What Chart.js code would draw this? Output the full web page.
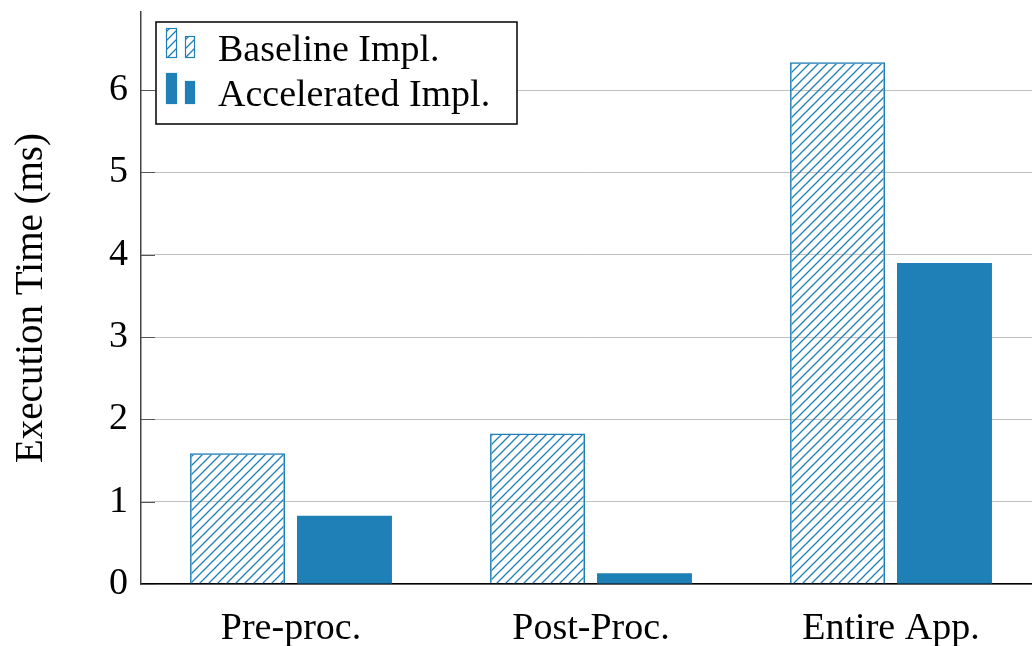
<!DOCTYPE html>
<html>
<head>
<meta charset="utf-8">
<script src="https://cdn.jsdelivr.net/npm/chart.js@4"></script>
<style>
  html, body { margin: 0; padding: 0; background: #fff; overflow: hidden; }
  canvas { display: block; }
</style>
</head>
<body>
<canvas id="chart" width="1032" height="646"></canvas>
<script>
const categories = ['Pre-proc.', 'Post-Proc.', 'Entire App.'];
const baselineTimes = [1.59, 1.83, 6.34];
const acceleratedTimes = [0.83, 0.13, 3.90];
const yTicks = [0, 1, 2, 3, 4, 5, 6];
const seriesNames = ['Baseline Impl.', 'Accelerated Impl.'];

const BLUE = '#1f80b8';
const FONT = '"Liberation Serif", "DejaVu Serif", serif';
const FONT_SIZE = 38;

// hatch pattern for the baseline bars
function makeHatch() {
    const n = 9;
    const tile = document.createElement('canvas');
    tile.width = n;
    tile.height = n;
    const c = tile.getContext('2d');
    c.strokeStyle = BLUE;
    c.lineWidth = 1.3;
    c.beginPath();
    c.moveTo(-1, n + 1); c.lineTo(n + 1, -1);
    c.moveTo(-1, 1); c.lineTo(1, -1);
    c.moveTo(n - 1, n + 1); c.lineTo(n + 1, n - 1);
    c.stroke();
    return document.getElementById('chart').getContext('2d').createPattern(tile, 'repeat');
}
const hatch = makeHatch();

// inner tick marks + legend box like pgfplots
const extras = {
    id: 'extras',
    afterDraw(chart) {
        const ctx = chart.ctx;
        const y = chart.scales.y;
        const area = chart.chartArea;
        ctx.save();
        ctx.strokeStyle = '#555';
        ctx.lineWidth = 1;
        yTicks.forEach(v => {
            const py = Math.round(y.getPixelForValue(v)) + 0.5;
            ctx.beginPath();
            ctx.moveTo(area.left, py);
            ctx.lineTo(area.left + 14, py);
            ctx.stroke();
        });

        // legend
        ctx.fillStyle = '#fff';
        ctx.fillRect(156, 22, 361, 102);
        ctx.strokeStyle = '#000';
        ctx.lineWidth = 1.5;
        ctx.strokeRect(156, 22, 361, 102);

        const rows = [
            { base: 61, bg: hatch, bars: [[166, 28, 11, 30], [185, 36, 10, 22]] },
            { base: 106, bg: BLUE, bars: [[166, 73, 11, 31], [185, 81, 10, 23]] }
        ];
        rows.forEach((row, i) => {
            row.bars.forEach(b => {
                ctx.fillStyle = row.bg;
                ctx.fillRect(b[0], b[1], b[2], b[3]);
                ctx.strokeStyle = BLUE;
                ctx.lineWidth = 1.2;
                ctx.strokeRect(b[0] + 0.5, b[1] + 0.5, b[2] - 1, b[3] - 1);
            });
            ctx.fillStyle = '#000';
            ctx.font = FONT_SIZE + 'px ' + FONT;
            ctx.textAlign = 'left';
            ctx.textBaseline = 'alphabetic';
            ctx.fillText(seriesNames[i], 218, row.base);
        });
        ctx.restore();
    }
};

new Chart(document.getElementById('chart'), {
    type: 'bar',
    data: {
        datasets: [
            {
                label: seriesNames[0],
                data: categories.map((c, i) => ({ x: i, y: baselineTimes[i] })),
                backgroundColor: hatch,
                borderColor: BLUE,
                borderWidth: 1.5
            },
            {
                label: seriesNames[1],
                data: categories.map((c, i) => ({ x: i, y: acceleratedTimes[i] })),
                backgroundColor: BLUE,
                borderColor: BLUE,
                borderWidth: 0
            }
        ]
    },
    options: {
        responsive: false,
        animation: false,
        devicePixelRatio: 1,
        categoryPercentage: 0.713,
        barPercentage: 0.888,
        layout: { padding: { top: 12, right: 0, left: 0, bottom: 0 } },
        plugins: {
            legend: { display: false },
            tooltip: { enabled: false }
        },
        scales: {
            x: {
                type: 'linear',
                offset: false,
                min: -0.5,
                max: 2.47,
                afterBuildTicks: axis => { axis.ticks = categories.map((c, i) => ({ value: i })); },
                afterFit: scale => {
                    scale.height = 62;
                    scale.paddingLeft = 0;
                    scale.paddingRight = 0;
                },
                grid: { display: false, drawTicks: false },
                border: { color: '#000', width: 1.5 },
                ticks: {
                    autoSkip: false,
                    maxRotation: 0,
                    padding: 22,
                    color: '#000',
                    font: { family: FONT, size: FONT_SIZE },
                    callback: v => categories[v]
                }
            },
            y: {
                min: 0,
                max: 6.95,
                afterBuildTicks: axis => { axis.ticks = yTicks.map(v => ({ value: v })); },
                afterFit: scale => {
                    scale.width = 141;
                    scale.paddingTop = 0;
                    scale.paddingBottom = 0;
                },
                grid: { color: '#c0c0c0', lineWidth: 1, drawTicks: false },
                border: { color: '#444', width: 1.5 },
                ticks: {
                    padding: 13,
                    color: '#000',
                    font: { family: FONT, size: FONT_SIZE }
                },
                title: {
                    display: true,
                    text: 'Execution Time (ms)',
                    color: '#000',
                    font: { family: FONT, size: 39 },
                    padding: { top: 8, bottom: 0 }
                }
            }
        }
    },
    plugins: [extras]
});
</script>
</body>
</html>
